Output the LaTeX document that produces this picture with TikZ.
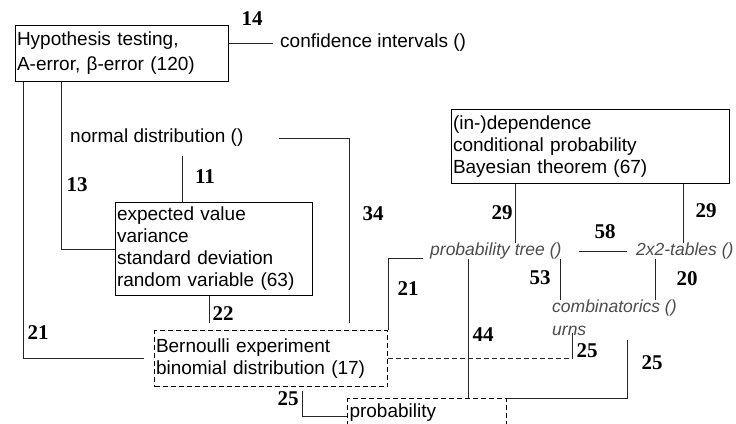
\documentclass[tikz,border=0pt]{standalone}
\usepackage{fontspec}
\setmainfont{Liberation Sans}
\newfontfamily\numfont{Liberation Serif}
\usepackage{tikz}

\begin{document}
\begin{tikzpicture}[
    x=1pt, y=-1pt,
    % Define simple, standard styles
    box/.style={rectangle, draw=black, line width=1pt, align=left, inner xsep=1.5pt, inner ysep=0pt, font=\fontsize{19}{22}\selectfont},
    dbox/.style={box, dash pattern=on 5pt off 3pt},
    topic/.style={inner sep=0pt, font=\fontsize{19}{22}\selectfont},
    itopic/.style={inner sep=0pt, align=left, text=black!70, font=\fontsize{17.5}{23}\selectfont\itshape},
    num/.style={inner sep=0pt, font=\fontsize{21}{21}\selectfont\numfont\bfseries},
    link/.style={line width=1pt, draw=black!85}
]
\useasboundingbox (0,0) rectangle (736,423);

% 1. Boxes with the main topics
\node[box, anchor=north west, minimum width=213, minimum height=56, text width=210] (hyp) at (15,25) {Hypothesis testing,\\[3pt] A-error, β-error (120)};
\node[box, anchor=north west, minimum width=197, minimum height=93, text width=194] (expv) at (115,202) {expected value\\ variance\\ standard deviation\\ random variable (63)};
\node[dbox, anchor=north west, minimum width=233, minimum height=56, text width=230] (bern) at (154,330) {Bernoulli experiment\\ binomial distribution (17)};
\node[dbox, anchor=north west, minimum width=159, minimum height=36, text depth=12pt, text width=155] (prob) at (347,398) {probability};
\node[box, anchor=north west, minimum width=278, minimum height=74, text width=275] (dep) at (451,109) {(in-)dependence\\ conditional probability\\ Bayesian theorem (67)};

% 2. Topics without a box
\node[topic, anchor=west] (conf) at (280,43) {confidence intervals ()};
\node[topic, anchor=west] (ndist) at (70,138) {normal distribution ()};
\node[itopic, anchor=west] (ptree) at (430,251) {probability tree ()};
\node[itopic, anchor=west] (tables) at (636,251) {2x2-tables ()};
\node[itopic, anchor=west] (comb) at (552,318) {combinatorics ()\\ urns};

% 3. Links between the topics
\draw[link, shorten >=7] (hyp.east |- conf.west) -- (conf.west);
\draw[link, shorten >=10] ([xshift=8]hyp.south west) |- (bern.west);
\draw[link] ([xshift=46]hyp.south west) |- (expv.west);
\draw[link, shorten <=9] ([xshift=-31.5]expv.north |- ndist.south) -- ([xshift=-31.5]expv.north);
\draw[link] ([xshift=35]ndist.east) -| ([xshift=-39,yshift=7]bern.north east);
\draw[link, shorten >=7] ([xshift=-4.5]expv.south) -- ([xshift=-4.5]expv.south |- bern.north);
\draw[link, shorten <=4] ([xshift=31.5]bern.south) |- (prob.west);
\draw[link] ([xshift=-75]dep.south) -- ([xshift=-75]dep.south |- ptree.north);
\draw[link] ([xshift=93]dep.south) -- ([xshift=93]dep.south |- tables.north);
\draw[link, shorten <=17, shorten >=9] (ptree.east) -- (tables.west);
\draw[link] ([xshift=-7,yshift=-7]ptree.west) -| (bern.north east);
\draw[link] ([xshift=38]ptree.south west) -- ([xshift=38]ptree.south west |- prob.north);
\draw[link] ([xshift=-1]ptree.south east) -- ([xshift=-1]ptree.south east |- comb.north);
\draw[link] ([xshift=19]tables.south west) -- ([xshift=19]tables.south west |- comb.north);
\coordinate (urnfoot) at ([xshift=20]comb.west |- bern.east);
\draw[link, dash pattern=on 5pt off 3pt] (bern.east) -- (urnfoot);
\draw[link, shorten >=-3] (urnfoot) -- ([xshift=20]comb.south west);
\draw[link] ([xshift=75,yshift=-4]comb.south west) |- (prob.north east);

% 4. Numbers on the links
\node[num] (n14) at (252,19) {14};
\node[num] (n13) at (77,185) {13};
\node[num] (n11) at (205,177) {11};
\node[num] (n34) at (373,214) {34};
\node[num] (n22) at (223,314) {22};
\node[num] (n21a) at (38,333) {21};
\node[num] (n25a) at (288,399) {25};
\node[num] (n21b) at (408,289) {21};
\node[num] (n29a) at (502,213) {29};
\node[num] (n29b) at (706,211) {29};
\node[num] (n58) at (605,232) {58};
\node[num] (n53) at (540,278) {53};
\node[num] (n20) at (687,279) {20};
\node[num] (n44) at (483,335) {44};
\node[num] (n25b) at (587,351) {25};
\node[num] (n25c) at (652,363) {25};

\end{tikzpicture}
\end{document}
